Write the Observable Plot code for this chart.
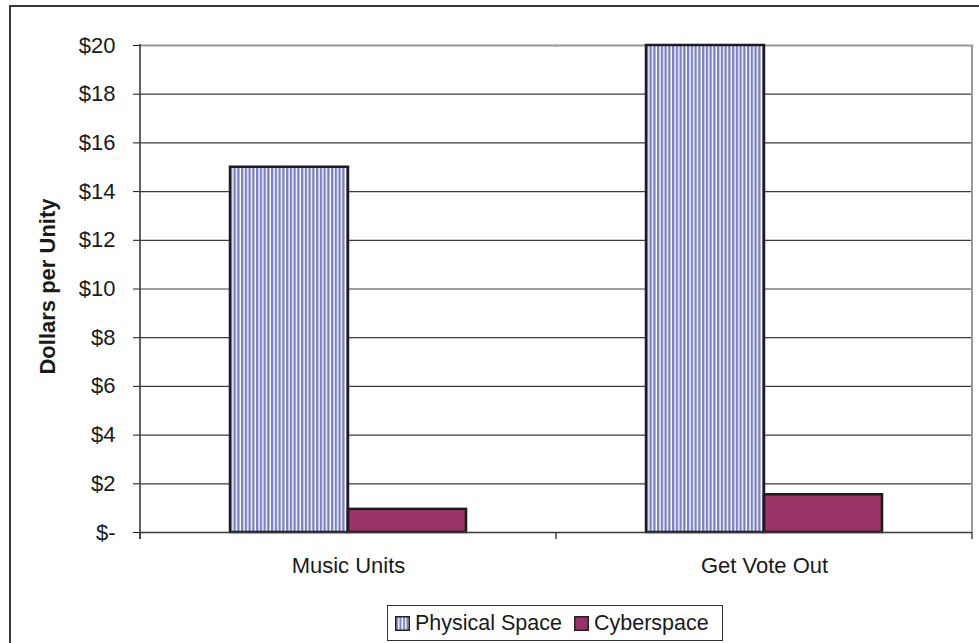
<!DOCTYPE html>
<html>
<head>
<meta charset="utf-8">
<script src="https://cdn.jsdelivr.net/npm/d3@7"></script>
<script src="https://cdn.jsdelivr.net/npm/@observablehq/plot@0.6"></script>
<style>
  html, body { margin: 0; padding: 0; background: #fff; }
  #wrap { position: relative; width: 979px; height: 643px; overflow: hidden; font-family: "Liberation Sans", Arial, sans-serif; color: #1a1a1a; }
  #outline { position: absolute; left: 9px; top: 4.5px; width: 1000px; height: 700px; border: 2px solid #3a3a3a; box-sizing: border-box; }
  #chart { position: relative; }
  #legend { position: relative; margin: 5px 0 0 387px; width: 336px; height: 36px; box-sizing: border-box; border: 1px solid #333; display: flex; align-items: center; padding-left: 7px; font-size: 21.5px; background: #fff; }
  #legend .item { display: flex; align-items: center; }
  #legend svg { display: block; margin-right: 5px; }
  #legend .item + .item { margin-left: 12px; }
</style>
</head>
<body>
<div id="wrap">
  <div id="outline"></div>
  <div id="chart"></div>
  <div id="legend"></div>
</div>
<script>
// Cost per unit of outreach, physical space vs. cyberspace
const categories = ["Music Units", "Get Vote Out"];
const series = ["Physical Space", "Cyberspace"];
const physicalSpace = [15, 20];
const cyberspace = [0.95, 1.55];
const yTicks = [0, 2, 4, 6, 8, 10, 12, 14, 16, 18, 20];
const yLabel = "Dollars per Unity";

const seriesFills = ["url(#vstripes)", "#993366"];
const stripeColor = "#7b7fc4";

const rows = categories.flatMap((category, i) => [
  {category, series: series[0], value: physicalSpace[i]},
  {category, series: series[1], value: cyberspace[i]}
]);

const fmt = d => d === 0 ? "$-" : `$${d}`;

const chart = Plot.plot({
  width: 979,
  height: 600,
  marginLeft: 139,
  marginRight: 7,
  marginTop: 45,
  marginBottom: 68,
  style: {
    fontFamily: "'Liberation Sans', Arial, sans-serif",
    fontSize: "22px",
    color: "#1a1a1a",
    background: "transparent",
    overflow: "visible"
  },
  fx: {domain: categories, padding: 0, axis: "bottom", label: null, tickSize: 0, tickPadding: 25},
  x: {domain: series, paddingInner: 0, paddingOuter: 0.75, axis: null},
  y: {domain: [0, 20], ticks: yTicks, tickFormat: fmt, tickSize: 7, tickPadding: 18, label: null},
  color: {domain: series, range: seriesFills},
  marks: [
    Plot.ruleY(yTicks, {stroke: "#3c3c3c", strokeWidth: 1.2}),
    Plot.frame({anchor: "top", stroke: "#9a9a9a", strokeWidth: 2}),
    Plot.barY(rows, {fx: "category", x: "series", y: "value", fill: "series", stroke: "#1c1c1c", strokeWidth: 2.5}),
    Plot.ruleY([0], {stroke: "#3a3a3a", strokeWidth: 1.6})
  ]
});

document.getElementById("chart").appendChild(chart);

// Stripe pattern used by the physical-space bars
const svg = d3.select(chart);
const defs = svg.insert("defs", ":first-child");
const pat = defs.append("pattern")
  .attr("id", "vstripes")
  .attr("patternUnits", "userSpaceOnUse")
  .attr("width", 3.75).attr("height", 10);
pat.append("rect").attr("width", 3.75).attr("height", 10).attr("fill", "#fff");
pat.append("rect").attr("width", 2.35).attr("height", 10).attr("fill", stripeColor);

// Axis lines, category boundary ticks and plot-area border
const y = chart.scale("y");
const fx = chart.scale("fx");
const y0 = y.apply(0), yTop = y.apply(20);
const left = fx.apply(categories[0]);
const right = fx.apply(categories[categories.length - 1]) + fx.bandwidth;
const g = svg.append("g").attr("stroke-linecap", "butt");

g.append("line")
  .attr("x1", right).attr("x2", right).attr("y1", yTop).attr("y2", y0)
  .attr("stroke", "#9a9a9a").attr("stroke-width", 2);
g.append("line")
  .attr("x1", left).attr("x2", left).attr("y1", yTop - 1).attr("y2", y0 + 7)
  .attr("stroke", "#3a3a3a").attr("stroke-width", 1.6);
const bounds = categories.map(c => fx.apply(c)).concat([right]);
g.selectAll(".btick").data(bounds).join("line")
  .attr("x1", d => d).attr("x2", d => d).attr("y1", y0).attr("y2", y0 + 7)
  .attr("stroke", "#3a3a3a").attr("stroke-width", 1.4);

svg.append("text")
  .attr("transform", `translate(47,${(y0 + yTop) / 2 - 2}) rotate(-90)`)
  .attr("text-anchor", "middle")
  .attr("dominant-baseline", "central")
  .attr("font-weight", "bold")
  .attr("font-size", "22px")
  .attr("fill", "#1a1a1a")
  .text(yLabel);

// Legend
const legend = d3.select("#legend");
series.forEach((name, i) => {
  const item = legend.append("div").attr("class", "item");
  const sw = item.append("svg").attr("width", 15).attr("height", 15);
  if (i === 0) {
    const p = sw.append("defs").append("pattern")
      .attr("id", "vstripes-key").attr("patternUnits", "userSpaceOnUse")
      .attr("width", 3.5).attr("height", 15);
    p.append("rect").attr("width", 3.5).attr("height", 15).attr("fill", "#fff");
    p.append("rect").attr("x", 1).attr("width", 2).attr("height", 15).attr("fill", stripeColor);
  }
  sw.append("rect")
    .attr("x", 0.75).attr("y", 0.75).attr("width", 13.5).attr("height", 13.5)
    .attr("fill", i === 0 ? "url(#vstripes-key)" : seriesFills[1])
    .attr("stroke", "#222").attr("stroke-width", 1.5);
  item.append("span").text(name);
});
</script>
</body>
</html>
